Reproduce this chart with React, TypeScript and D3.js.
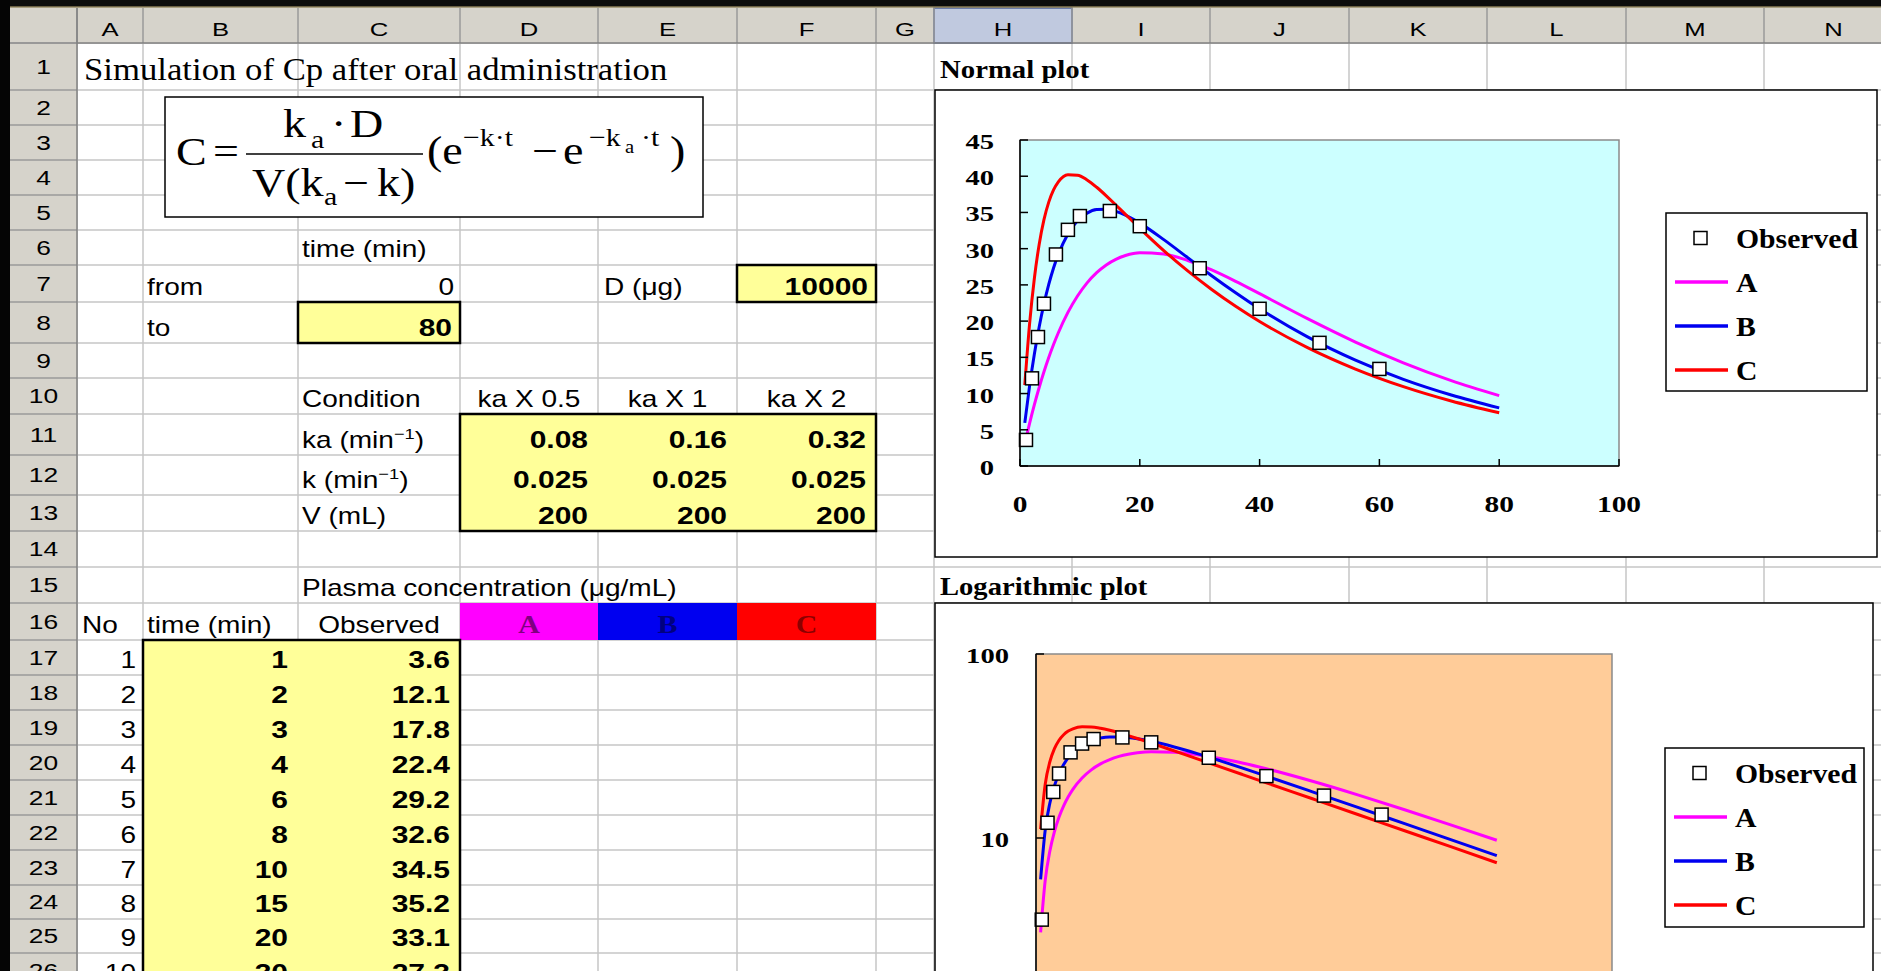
import React from 'react';
import * as d3 from 'd3';

const SERIF = '"Liberation Serif", "Times New Roman", serif';
const SANS = '"Liberation Sans", Arial, sans-serif';

// sheet layout (pixel edges of the grid)
const colNames = ['A', 'B', 'C', 'D', 'E', 'F', 'G', 'H', 'I', 'J', 'K', 'L', 'M', 'N'];
const colEdges = [77, 143, 298, 460, 598, 737, 876, 934, 1072, 1210, 1349, 1487, 1626, 1764, 1903];
const rowEdges = [43, 90, 125, 160, 195, 230, 265, 302, 343, 378, 414, 455, 495, 531, 567, 603, 640, 675, 710, 745, 780, 815, 850, 885, 919, 953, 988];

// parameter table
const conditions = ['ka X 0.5', 'ka X 1', 'ka X 2'];
const kaValues = ['0.08', '0.16', '0.32'];
const kValues = ['0.025', '0.025', '0.025'];
const vValues = ['200', '200', '200'];
const seriesNames = ['A', 'B', 'C'];
const seriesColors = ['#ff00ff', '#0000f0', '#ff0000'];
const headerTextColors = ['#800080', '#000080', '#8b0000'];

// observed data
const obsNo = [1, 2, 3, 4, 5, 6, 7, 8, 9, 10];
const obsTime = [1, 2, 3, 4, 6, 8, 10, 15, 20, 30, 40, 50, 60];
const obsConc = [3.6, 12.1, 17.8, 22.4, 29.2, 32.6, 34.5, 35.2, 33.1, 27.3, 21.7, 17.0, 13.4];

// simulated curves
const simTime = [0.8, 1.6, 2.4, 3.2, 4, 4.8, 5.6, 6.4, 8, 9.6, 11.2, 12.8, 14.4, 16, 17.6, 20, 24, 28, 32, 36, 40, 48, 56, 64, 72, 80];
const seriesA = [3.07, 5.89, 8.47, 10.83, 13.0, 14.97, 16.76, 18.39, 21.2, 23.47, 25.28, 26.69, 27.76, 28.53, 29.05, 29.43, 29.25, 28.37, 27.06, 25.49, 23.79, 20.34, 17.11, 14.25, 11.79, 9.72];
const seriesB = [5.95, 11.06, 15.45, 19.19, 22.37, 25.06, 27.33, 29.21, 32.04, 33.86, 34.91, 35.39, 35.43, 35.14, 34.62, 33.53, 31.25, 28.76, 26.27, 23.91, 21.7, 17.82, 14.61, 11.96, 9.8, 8.02];
const seriesC = [11.18, 19.61, 25.92, 30.59, 34.0, 36.43, 38.11, 39.22, 40.21, 40.15, 39.49, 38.48, 37.3, 36.03, 34.74, 32.81, 29.74, 26.93, 24.37, 22.05, 19.95, 16.34, 13.38, 10.95, 8.97, 7.34];
const allSeries = [seriesA, seriesB, seriesC];

const normalYTicks = [0, 5, 10, 15, 20, 25, 30, 35, 40, 45];
const normalXTicks = [0, 20, 40, 60, 80, 100];
const logYTicks = [1, 10, 100];

// stretched text (the screenshot is wider than it is tall)
const T = ({ x, y, s = 1.22, size = 23, anchor = 'start', weight = 'normal', family = SANS, fill = '#000', children }: any) => (
  <text
    transform={`translate(${x},${y}) scale(${s},1)`}
    fontSize={size}
    textAnchor={anchor}
    fontWeight={weight}
    fontFamily={family}
    fill={fill}
  >
    {children}
  </text>
);

const rowTop = (r: number) => rowEdges[r - 1];
const rowBot = (r: number) => rowEdges[r];
const colL = (c: number) => colEdges[c];
const colR = (c: number) => colEdges[c + 1];
const colMid = (c: number) => (colEdges[c] + colEdges[c + 1]) / 2;

const Sheet = () => {
  const base = (r: number) => rowBot(r) - 7;
  return (
    <g>
      {/* grid */}
      {colEdges.map((x, i) => (
        <line key={'v' + i} x1={x} x2={x} y1={43} y2={971} stroke="#c6c6c6" strokeWidth={1.5} />
      ))}
      {rowEdges.map((y, i) => (
        <line key={'h' + i} x1={77} x2={1881} y1={y} y2={y} stroke="#c6c6c6" strokeWidth={1.5} />
      ))}

      {/* coloured header cells */}
      {seriesNames.map((n, i) => (
        <g key={n}>
          <rect x={colL(3 + i)} y={rowTop(16)} width={colR(3 + i) - colL(3 + i)} height={rowBot(16) - rowTop(16)} fill={seriesColors[i]} />
          <T x={colMid(3 + i)} y={base(16)} anchor="middle" family={SERIF} weight="bold" size={26} s={1.15} fill={headerTextColors[i]}>{n}</T>
        </g>
      ))}

      {/* yellow input cells */}
      <rect x={colL(5)} y={rowTop(7)} width={colR(5) - colL(5)} height={rowBot(7) - rowTop(7)} fill="#ffff99" stroke="#000" strokeWidth={2.5} />
      <rect x={colL(2)} y={rowTop(8)} width={colR(2) - colL(2)} height={rowBot(8) - rowTop(8)} fill="#ffff99" stroke="#000" strokeWidth={2.5} />
      <rect x={colL(3)} y={rowTop(11)} width={colR(5) - colL(3)} height={rowBot(13) - rowTop(11)} fill="#ffff99" stroke="#000" strokeWidth={2.5} />
      <rect x={colL(1)} y={rowTop(17)} width={colR(2) - colL(1)} height={400} fill="#ffff99" stroke="#000" strokeWidth={2.5} />

      {/* title */}
      <T x={84} y={80} family={SERIF} size={31} s={1.12}>Simulation of Cp after oral administration</T>

      {/* formula box */}
      <rect x={165} y={97} width={538} height={120} fill="#fff" stroke="#000" strokeWidth={1.5} />
      <g fontFamily={SERIF}>
        <T x={176} y={165} family={SERIF} size={40} s={1.15}>C</T>
        <T x={213} y={165} family={SERIF} size={40} s={1.15}>=</T>
        <line x1={246} x2={423} y1={154} y2={154} stroke="#000" strokeWidth={1.6} />
        <T x={283} y={137} family={SERIF} size={40} s={1.15}>k</T>
        <T x={311} y={148} family={SERIF} size={26} s={1.15}>a</T>
        <T x={331} y={137} family={SERIF} size={40} s={1.15}>·</T>
        <T x={350} y={137} family={SERIF} size={40} s={1.15}>D</T>
        <T x={252} y={196} family={SERIF} size={40} s={1.15}>V(k</T>
        <T x={324} y={205} family={SERIF} size={26} s={1.15}>a</T>
        <T x={343} y={196} family={SERIF} size={40} s={1.15}>−</T>
        <T x={377} y={196} family={SERIF} size={40} s={1.15}>k)</T>
        <T x={427} y={164} family={SERIF} size={40} s={1.15}>(e</T>
        <T x={463} y={146} family={SERIF} size={26} s={1.15}>−k·t</T>
        <T x={532} y={164} family={SERIF} size={40} s={1.15}>−</T>
        <T x={563} y={164} family={SERIF} size={40} s={1.15}>e</T>
        <T x={589} y={146} family={SERIF} size={26} s={1.15}>−k</T>
        <T x={625} y={153} family={SERIF} size={18} s={1.15}>a</T>
        <T x={641} y={146} family={SERIF} size={26} s={1.15}>·t</T>
        <T x={670} y={164} family={SERIF} size={40} s={1.15}>)</T>
      </g>

      {/* labels */}
      <T x={302} y={base(6) - 1}>time (min)</T>
      <T x={147} y={base(7)}>from</T>
      <T x={454} y={base(7)} anchor="end">0</T>
      <T x={604} y={base(7)}>D (μg)</T>
      <T x={868} y={base(7)} anchor="end" weight="bold" size={24} s={1.25}>10000</T>
      <T x={147} y={base(8)}>to</T>
      <T x={452} y={base(8)} anchor="end" weight="bold" size={24} s={1.25}>80</T>

      <T x={302} y={base(10)}>Condition</T>
      {conditions.map((c, i) => (
        <T key={c} x={colMid(3 + i)} y={base(10)} anchor="middle">{c}</T>
      ))}
      <T x={302} y={base(11)}>
        ka (min<tspan dy={-9} fontSize={15}>−1</tspan><tspan dy={9}>)</tspan>
      </T>
      <T x={302} y={base(12)}>
        k (min<tspan dy={-9} fontSize={15}>−1</tspan><tspan dy={9}>)</tspan>
      </T>
      <T x={302} y={base(13)}>V (mL)</T>
      {[kaValues, kValues, vValues].map((vals, r) =>
        vals.map((v, i) => (
          <T key={r + '-' + i} x={colR(3 + i) - 10} y={base(11 + r)} anchor="end" weight="bold" size={24} s={1.25}>{v}</T>
        ))
      )}

      <T x={302} y={base(15)}>Plasma concentration (μg/mL)</T>
      <T x={82} y={base(16)}>No</T>
      <T x={147} y={base(16)}>time (min)</T>
      <T x={colMid(2)} y={base(16)} anchor="middle">Observed</T>

      {obsNo.map((n, i) => (
        <g key={'o' + n}>
          <T x={136} y={base(17 + i)} anchor="end">{n}</T>
          <T x={288} y={base(17 + i)} anchor="end" weight="bold" size={24} s={1.25}>{obsTime[i]}</T>
          <T x={450} y={base(17 + i)} anchor="end" weight="bold" size={24} s={1.25}>{obsConc[i].toFixed(1)}</T>
        </g>
      ))}

      {/* chart captions */}
      <T x={940} y={78} family={SERIF} weight="bold" size={25} s={1.15}>Normal plot</T>
      <T x={940} y={595} family={SERIF} weight="bold" size={26} s={1.1}>Logarithmic plot</T>
    </g>
  );
};

const Headers = () => (
  <g>
    <rect x={10} y={8} width={1871} height={35} fill="#d6d3cb" />
    <rect x={10} y={43} width={67} height={928} fill="#d6d3cb" />
    <rect x={934} y={8} width={138} height={35} fill="#c0c9df" stroke="#50649a" strokeWidth={1.5} />
    {colEdges.map((x, i) => (
      <line key={'cv' + i} x1={x} x2={x} y1={8} y2={43} stroke="#9a9a9a" strokeWidth={1.5} />
    ))}
    <line x1={10} x2={1881} y1={43} y2={43} stroke="#808080" strokeWidth={1.5} />
    {rowEdges.map((y, i) => (
      <line key={'rh' + i} x1={10} x2={77} y1={y} y2={y} stroke="#9a9a9a" strokeWidth={1.5} />
    ))}
    <line x1={77} x2={77} y1={8} y2={971} stroke="#808080" strokeWidth={1.5} />
    {colNames.map((n, i) => (
      <T key={n} x={colMid(i)} y={36} anchor="middle" size={19} s={1.35}>{n}</T>
    ))}
    {rowEdges.slice(0, -1).map((y, i) => (
      <T key={'rn' + i} x={43.5} y={(y + rowEdges[i + 1]) / 2 + 7} anchor="middle" size={20} s={1.32}>{i + 1}</T>
    ))}
    <rect x={0} y={0} width={1881} height={7} fill="#0c0c0c" />
    <line x1={0} x2={1881} y1={7} y2={7} stroke="#8a7c56" strokeWidth={1.5} />
    <rect x={0} y={0} width={10} height={971} fill="#050505" />
  </g>
);

const Legend = ({ x, y, w, h, top }: any) => (
  <g>
    <rect x={x} y={y} width={w} height={h} fill="#fff" stroke="#000" strokeWidth={1.5} />
    <rect x={x + 28} y={top - 6.5} width={13} height={13} fill="#fff" stroke="#000" strokeWidth={1.5} />
    <T x={x + 70} y={top + 10} family={SERIF} weight="bold" size={27} s={1.1}>Observed</T>
    {seriesNames.map((n, i) => (
      <g key={n}>
        <line x1={x + 9} x2={x + 62} y1={top + 44 * (i + 1)} y2={top + 44 * (i + 1)} stroke={seriesColors[i]} strokeWidth={3.5} />
        <T x={x + 70} y={top + 44 * (i + 1) + 10} family={SERIF} weight="bold" size={27} s={1.1}>{n}</T>
      </g>
    ))}
  </g>
);

const NormalChart = () => {
  const x = d3.scaleLinear().domain([0, 100]).range([1020, 1619]);
  const y = d3.scaleLinear().domain([0, 45]).range([466, 140]);
  const line = d3.line<number>().x((_, i) => x(simTime[i])).y((d) => y(d)).curve(d3.curveMonotoneX);
  return (
    <g>
      <rect x={935} y={90} width={942} height={467} fill="#fff" stroke="#000" strokeWidth={1.5} />
      <rect x={x(0)} y={y(45)} width={x(100) - x(0)} height={y(0) - y(45)} fill="#ccffff" stroke="#8a8a8a" strokeWidth={1.5} />
      {allSeries.map((s, i) => (
        <path key={i} d={line(s) || ''} fill="none" stroke={seriesColors[i]} strokeWidth={3} strokeLinejoin="round" />
      ))}
      {obsTime.map((t, i) => (
        <rect key={t} x={x(t) - 6.5} y={y(obsConc[i]) - 6.5} width={13} height={13} fill="#fff" stroke="#000" strokeWidth={1.5} />
      ))}
      <line x1={x(0)} x2={x(0)} y1={y(45)} y2={y(0)} stroke="#000" strokeWidth={1.5} />
      <line x1={x(0)} x2={x(100)} y1={y(0)} y2={y(0)} stroke="#000" strokeWidth={1.5} />
      {normalYTicks.map((v) => (
        <g key={'y' + v}>
          <line x1={x(0)} x2={x(0) + 8} y1={y(v)} y2={y(v)} stroke="#000" strokeWidth={1.5} />
          <T x={994} y={y(v) + 9} anchor="end" family={SERIF} weight="bold" size={22} s={1.3}>{v}</T>
        </g>
      ))}
      {normalXTicks.map((v) => (
        <g key={'x' + v}>
          <line x1={x(v)} x2={x(v)} y1={y(0)} y2={y(0) - 7} stroke="#000" strokeWidth={1.5} />
          <T x={x(v)} y={512} anchor="middle" family={SERIF} weight="bold" size={23} s={1.28}>{v}</T>
        </g>
      ))}
      <Legend x={1666} y={213} w={201} h={178} top={238} />
    </g>
  );
};

const LogChart = () => {
  const x = d3.scaleLinear().domain([0, 100]).range([1036, 1612]);
  const y = d3.scaleLog().domain([1, 100]).range([1022, 654]);
  const line = d3.line<number>().x((_, i) => x(simTime[i])).y((d) => y(d)).curve(d3.curveMonotoneX);
  return (
    <g>
      <rect x={935} y={603} width={938} height={420} fill="#fff" stroke="#000" strokeWidth={1.5} />
      <rect x={x(0)} y={y(100)} width={x(100) - x(0)} height={y(1) - y(100)} fill="#ffcc99" stroke="#8a8a8a" strokeWidth={1.5} />
      {allSeries.map((s, i) => (
        <path key={i} d={line(s) || ''} fill="none" stroke={seriesColors[i]} strokeWidth={3} strokeLinejoin="round" />
      ))}
      {obsTime.map((t, i) => (
        <rect key={t} x={x(t) - 6.5} y={y(obsConc[i]) - 6.5} width={13} height={13} fill="#fff" stroke="#000" strokeWidth={1.5} />
      ))}
      <line x1={x(0)} x2={x(0)} y1={y(100)} y2={y(1)} stroke="#000" strokeWidth={1.5} />
      {logYTicks.map((v) => (
        <g key={'ly' + v}>
          <line x1={x(0)} x2={x(0) + 8} y1={y(v)} y2={y(v)} stroke="#000" strokeWidth={1.5} />
          <T x={1009} y={y(v) + 9} anchor="end" family={SERIF} weight="bold" size={22} s={1.3}>{v}</T>
        </g>
      ))}
      <Legend x={1665} y={748} w={199} h={179} top={773} />
    </g>
  );
};

export default function App() {
  return (
    <svg
      width={1881}
      height={971}
      viewBox="0 0 1881 971"
      style={{ position: 'fixed', left: 0, top: 0, background: '#fff' }}
    >
      <rect x={0} y={0} width={1881} height={971} fill="#fff" />
      <Sheet />
      <NormalChart />
      <LogChart />
      <Headers />
    </svg>
  );
}
